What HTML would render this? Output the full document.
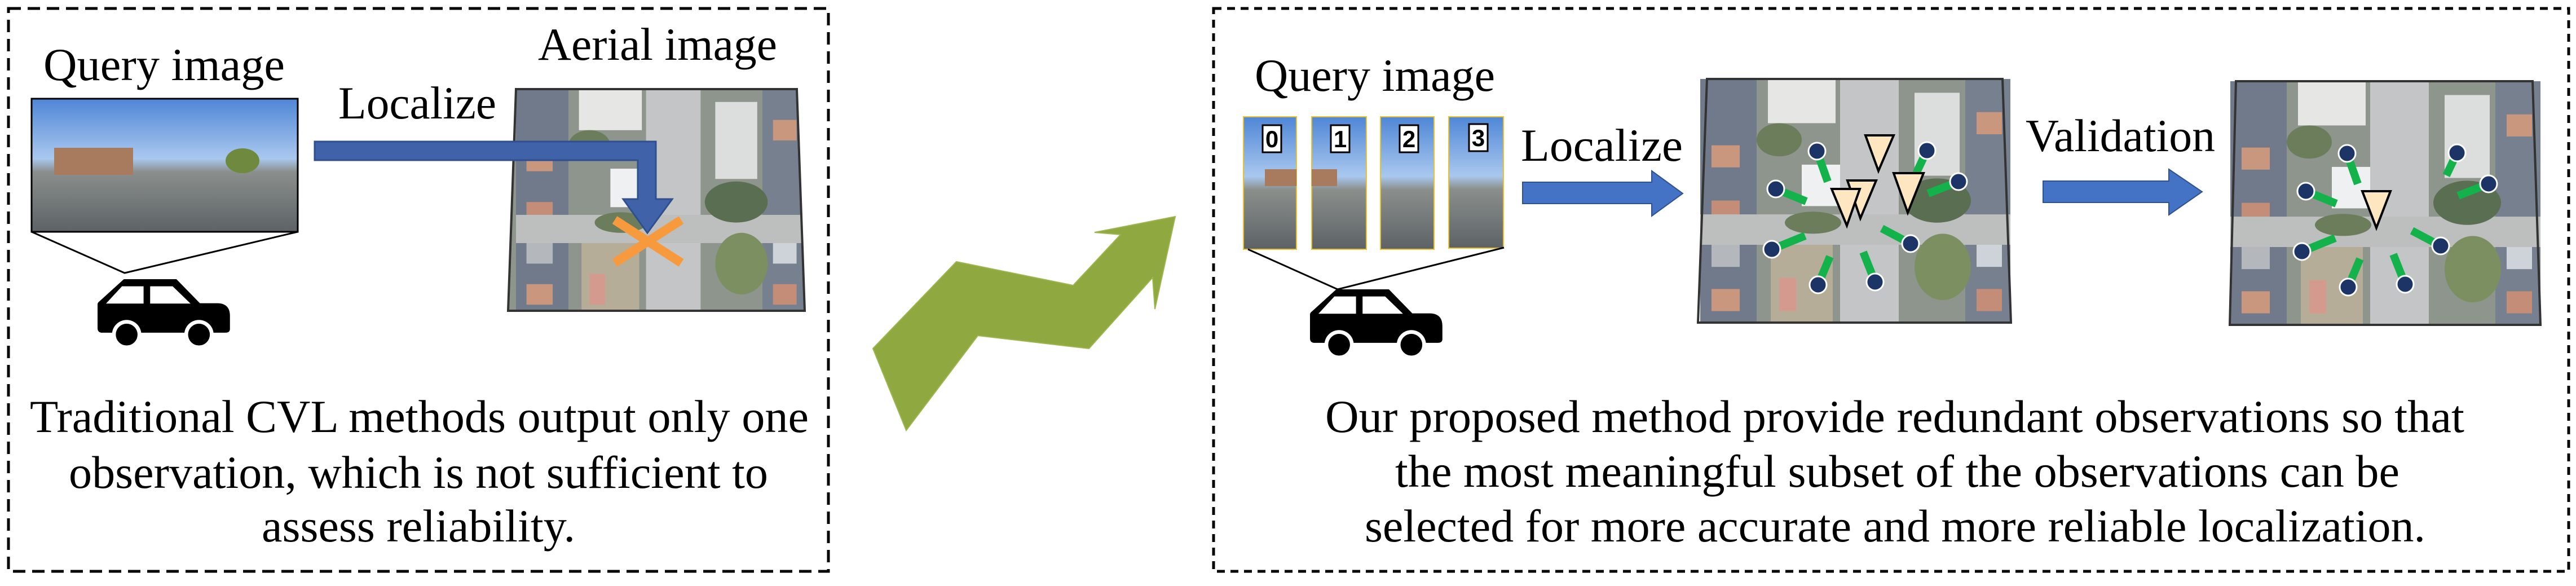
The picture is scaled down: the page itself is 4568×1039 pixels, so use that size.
<!DOCTYPE html>
<html><head><meta charset="utf-8"><style>
html,body{margin:0;padding:0;background:#fff;}
svg{display:block;}
</style></head><body>
<svg width="4568" height="1039" viewBox="0 0 4568 1039" xmlns="http://www.w3.org/2000/svg" font-family="'Liberation Serif', 'Times New Roman', serif">
<defs>
  <linearGradient id="sky" x1="0" y1="0" x2="0" y2="1">
    <stop offset="0" stop-color="#4f86d6"/><stop offset="0.45" stop-color="#a9c8ee"/><stop offset="0.55" stop-color="#8a8f8c"/><stop offset="1" stop-color="#5d6266"/>
  </linearGradient>
  <g id="car">
    <path d="M140,0 L420,0 L545,128 L640,128 Q705,130 705,195 L705,265 Q705,285 680,285 L25,285 Q0,285 0,260 L0,135 Q0,125 10,118 Z" fill="#000"/>
    <polygon points="45,130 130,38 245,38 245,130" fill="#fff"/>
    <polygon points="280,38 400,38 495,130 280,130" fill="#fff"/>
    <circle cx="155" cy="295" r="78" fill="#fff"/><circle cx="540" cy="295" r="78" fill="#fff"/>
    <circle cx="155" cy="295" r="58" fill="#000"/><circle cx="540" cy="295" r="58" fill="#000"/>
  </g>
  <g id="aer">
    <rect x="-20" y="-20" width="600" height="480" fill="#8e958c"/>
    <rect x="0" y="0" width="100" height="440" fill="#707a8a"/>
    <rect x="20" y="120" width="50" height="40" fill="#c9967e"/>
    <rect x="20" y="220" width="50" height="40" fill="#c48d78"/>
    <rect x="20" y="300" width="50" height="40" fill="#b4b8bc"/>
    <rect x="20" y="380" width="50" height="40" fill="#c9967e"/>
    <rect x="470" y="0" width="90" height="440" fill="#76808e"/>
    <rect x="490" y="60" width="45" height="40" fill="#c9967e"/>
    <rect x="490" y="380" width="45" height="40" fill="#c48d78"/>
    <rect x="490" y="300" width="45" height="40" fill="#cdd3d8"/>
    <rect x="120" y="0" width="120" height="80" fill="#e6e6e4"/>
    <rect x="380" y="25" width="80" height="150" fill="#dcdedd"/>
    <rect x="180" y="155" width="70" height="75" fill="#eef0f2"/>
    <rect x="248" y="0" width="104" height="440" fill="#c3c5c6"/>
    <rect x="0" y="245" width="560" height="55" fill="#bdbfbf"/>
    <rect x="125" y="300" width="110" height="140" fill="#b5ad98"/>
    <rect x="140" y="360" width="30" height="60" fill="#d49a8e"/>
    <ellipse cx="420" cy="220" rx="60" ry="40" fill="#5a6f52"/>
    <ellipse cx="430" cy="340" rx="50" ry="60" fill="#7c8f60"/>
    <ellipse cx="140" cy="110" rx="40" ry="30" fill="#6b7d5a"/>
    <ellipse cx="200" cy="260" rx="50" ry="20" fill="#6b7d5a"/>
  </g>
  <g id="dots1">
    <g stroke="#14b24a" stroke-width="14">
      <line x1="3222" y1="268" x2="3241" y2="322"/>
      <line x1="3149" y1="335" x2="3203" y2="357"/>
      <line x1="3417" y1="267" x2="3398" y2="307"/>
      <line x1="3473" y1="322" x2="3419" y2="343"/>
      <line x1="3142" y1="442" x2="3201" y2="418"/>
      <line x1="3388" y1="432" x2="3337" y2="405"/>
      <line x1="3224" y1="505" x2="3245" y2="455"/>
      <line x1="3325" y1="500" x2="3304" y2="447"/>
    </g>
    <g fill="#1c3566" stroke="#fff" stroke-width="3">
      <circle cx="3222" cy="268" r="15"/><circle cx="3149" cy="335" r="15"/>
      <circle cx="3417" cy="267" r="15"/><circle cx="3473" cy="322" r="15"/>
      <circle cx="3142" cy="442" r="15"/><circle cx="3388" cy="432" r="15"/>
      <circle cx="3224" cy="505" r="15"/><circle cx="3325" cy="500" r="15"/>
    </g>
  </g>
  <clipPath id="cL"><polygon points="915,158 1413,158 1427,551 901,551"/></clipPath>
  <clipPath id="cA1"><rect x="3015" y="140" width="550" height="432"/></clipPath>
  <clipPath id="cA2"><rect x="3955" y="144" width="550" height="432"/></clipPath>
</defs>

<rect x="15" y="15" width="1454" height="998" fill="none" stroke="#000" stroke-width="5" stroke-dasharray="22 12"/>
<rect x="2152" y="15" width="2403" height="998" fill="none" stroke="#000" stroke-width="5" stroke-dasharray="14 10"/>

<!-- LEFT -->
<text font-family="Liberation Serif, serif" x="77" y="142" font-size="82" textLength="428" lengthAdjust="spacingAndGlyphs">Query image</text>
<text font-family="Liberation Serif, serif" x="954" y="106" font-size="82" textLength="424" lengthAdjust="spacingAndGlyphs">Aerial image</text>
<text font-family="Liberation Serif, serif" x="600" y="210" font-size="82" textLength="280" lengthAdjust="spacingAndGlyphs">Localize</text>
<rect x="56" y="175" width="472" height="236" fill="url(#sky)" stroke="#000" stroke-width="3"/>
<rect x="96" y="262" width="140" height="48" fill="#a87a5e"/>
<ellipse cx="430" cy="285" rx="30" ry="22" fill="#6f8a3e"/>
<polyline points="56,411 221,484 528,411" fill="none" stroke="#000" stroke-width="3"/>
<use href="#car" transform="translate(173,495) scale(0.333)"/>
<g clip-path="url(#cL)"><g transform="translate(915,158) scale(0.93,0.91)"><use href="#aer"/></g></g>
<polygon points="915,158 1413,158 1427,551 901,551" fill="none" stroke="#333" stroke-width="4"/>
<polygon points="558,251 1163,251 1163,353 1192,353 1148,413 1105,353 1131,353 1131,284 558,284" fill="#3f62a8" stroke="#2f4f8f" stroke-width="3"/>
<g stroke="#f79a3e" stroke-width="16"><line x1="1090" y1="390" x2="1208" y2="466"/><line x1="1208" y1="390" x2="1090" y2="466"/></g>
<text font-family="Liberation Serif, serif" x="53" y="766" font-size="82" textLength="1381" lengthAdjust="spacingAndGlyphs">Traditional CVL methods output only one</text>
<text font-family="Liberation Serif, serif" x="122" y="865" font-size="82" textLength="1240" lengthAdjust="spacingAndGlyphs">observation, which is not sufficient to</text>
<text font-family="Liberation Serif, serif" x="464" y="960" font-size="82" textLength="556" lengthAdjust="spacingAndGlyphs">assess reliability.</text>

<polygon points="1548,618 1696,464 1903,506 1987,416 1941,412 2084,384 2048,548 2044,492 1931,618 1734,595 1607,763" fill="#8fa83f" stroke="#9cb54c" stroke-width="2"/>

<!-- RIGHT -->
<text font-family="Liberation Serif, serif" x="2225" y="161" font-size="82" textLength="426" lengthAdjust="spacingAndGlyphs">Query image</text>
<g stroke="#e8c230" stroke-width="2">
  <rect x="2205" y="207" width="94" height="235" fill="url(#sky)"/>
  <rect x="2326" y="207" width="97" height="235" fill="url(#sky)"/>
  <rect x="2448" y="207" width="95" height="235" fill="url(#sky)"/>
  <rect x="2569" y="207" width="97" height="233" fill="url(#sky)"/>
</g>
<rect x="2243" y="300" width="56" height="30" fill="#a87a5e"/>
<rect x="2326" y="300" width="45" height="30" fill="#a87a5e"/>
<g fill="#fff" stroke="#000" stroke-width="3">
  <rect x="2239" y="222" width="33" height="48"/><rect x="2360" y="222" width="33" height="48"/>
  <rect x="2482" y="222" width="33" height="48"/><rect x="2605" y="220" width="33" height="48"/>
</g>
<g font-weight="bold" font-size="42" text-anchor="middle">
  <text font-family="Liberation Sans, sans-serif" x="2255.5" y="261">0</text>
  <text font-family="Liberation Sans, sans-serif" x="2376.5" y="261">1</text>
  <text font-family="Liberation Sans, sans-serif" x="2498.5" y="261">2</text>
  <text font-family="Liberation Sans, sans-serif" x="2621.5" y="259">3</text>
</g>
<polyline points="2213,442 2372,513 2667,439" fill="none" stroke="#000" stroke-width="3"/>
<use href="#car" transform="translate(2323,513) scale(0.333)"/>
<text font-family="Liberation Serif, serif" x="2697" y="285" font-size="82" textLength="287" lengthAdjust="spacingAndGlyphs">Localize</text>
<polygon points="2700,323 2929,323 2929,303 2984,343 2929,383 2929,361 2700,361" fill="#4472c4" stroke="#2f528f" stroke-width="2"/>
<g clip-path="url(#cA1)"><g transform="translate(3015,140) scale(1,0.98)"><use href="#aer"/></g></g>
<polygon points="3027,140 3551,140 3566,572 3011,572" fill="none" stroke="#333" stroke-width="4"/>
<use href="#dots1"/>
<g fill="#fde6c0" stroke="#000" stroke-width="4">
  <polygon points="3308,240 3358,240 3331,303"/>
  <polygon points="3276,320 3327,320 3299,387"/>
  <polygon points="3248,335 3298,335 3275,400"/>
  <polygon points="3358,307 3411,307 3383,377"/>
</g>
<text font-family="Liberation Serif, serif" x="3592" y="268" font-size="82" textLength="336" lengthAdjust="spacingAndGlyphs">Validation</text>
<polygon points="3623,321 3846,321 3846,300 3905,340 3846,381 3846,359 3623,359" fill="#4472c4" stroke="#2f528f" stroke-width="2"/>
<g clip-path="url(#cA2)"><g transform="translate(3955,144) scale(1,0.98)"><use href="#aer"/></g></g>
<polygon points="3965,144 4491,144 4505,576 3954,576" fill="none" stroke="#333" stroke-width="4"/>
<use href="#dots1" transform="translate(940,4)"/>
<polygon points="4189,339 4239,339 4214,404" fill="#fde6c0" stroke="#000" stroke-width="4"/>

<text font-family="Liberation Serif, serif" x="2350" y="766" font-size="82" textLength="2020" lengthAdjust="spacingAndGlyphs">Our proposed method provide redundant observations so that</text>
<text font-family="Liberation Serif, serif" x="2474" y="863" font-size="82" textLength="1781" lengthAdjust="spacingAndGlyphs">the most meaningful subset of the observations can be</text>
<text font-family="Liberation Serif, serif" x="2420" y="960" font-size="82" textLength="1881" lengthAdjust="spacingAndGlyphs">selected for more accurate and more reliable localization.</text>
</svg>
</body></html>
